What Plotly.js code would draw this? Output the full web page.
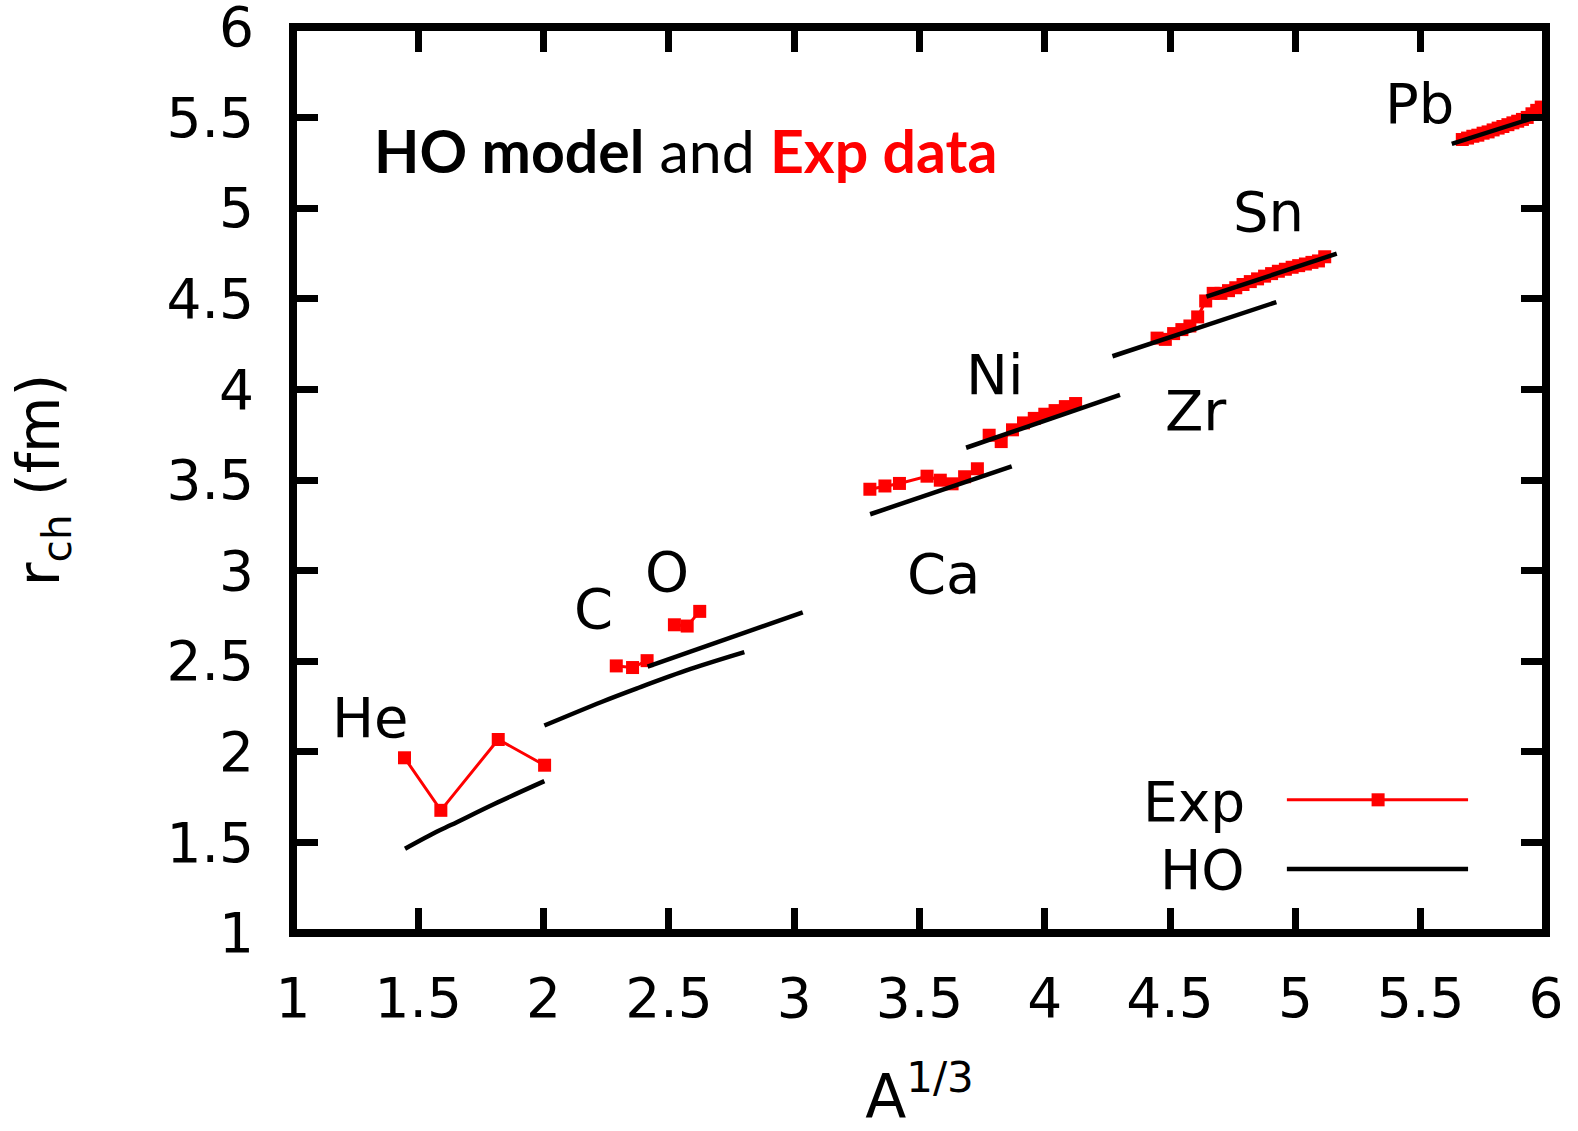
<!DOCTYPE html>
<html>
<head>
<meta charset="utf-8">
<script src="https://cdn.plot.ly/plotly-3.0.1.min.js"></script>
<style>
html,body{margin:0;padding:0;background:#fff;}
#chart{width:1578px;height:1131px;}
</style>
</head>
<body>
<div id="chart"></div>
<script>
// ---------- data ----------
// Experimental charge radii (x = A^(1/3), y = r_ch in fm)
var heExpX = [1.445, 1.590, 1.819, 2.004];
var heExpY = [1.967, 1.677, 2.068, 1.926];
var cExpX  = [2.290, 2.355, 2.413];
var cExpY  = [2.474, 2.465, 2.503];
var oExpX  = [2.522, 2.573, 2.623];
var oExpY  = [2.701, 2.694, 2.775];
var caExpX = [3.302, 3.362, 3.420, 3.530, 3.583, 3.630, 3.680, 3.731];
var caExpY = [3.449, 3.467, 3.481, 3.521, 3.499, 3.479, 3.518, 3.562];
var niExpX = [3.778, 3.826, 3.871, 3.915, 3.958, 4.000, 4.041, 4.082, 4.123];
var niExpY = [3.747, 3.712, 3.777, 3.815, 3.840, 3.863, 3.883, 3.905, 3.922];
var zrExpX = [4.448, 4.481, 4.514, 4.547, 4.579, 4.610, 4.642, 4.672];
var zrExpY = [4.283, 4.276, 4.308, 4.330, 4.350, 4.400, 4.488, 4.530];
var snExpX = [4.703, 4.733, 4.762, 4.791, 4.820, 4.849, 4.877, 4.905, 4.932, 4.960, 4.987, 5.013, 5.040, 5.066, 5.092, 5.117];
var snExpY = [4.530, 4.545, 4.561, 4.579, 4.595, 4.610, 4.625, 4.639, 4.652, 4.663, 4.674, 4.683, 4.692, 4.701, 4.709, 4.732];
var pbExpX = [5.666, 5.687, 5.708, 5.728, 5.749, 5.769, 5.789, 5.809, 5.828, 5.848, 5.868, 5.887, 5.906, 5.925, 5.944, 5.963, 5.981];
var pbExpY = [5.379, 5.387, 5.397, 5.403, 5.414, 5.421, 5.432, 5.442, 5.451, 5.461, 5.471, 5.480, 5.490, 5.501, 5.521, 5.540, 5.558];

// HO model curves
var heHoX = [1.447, 1.575, 1.632, 1.803, 2.003];
var heHoY = [1.465, 1.560, 1.597, 1.712, 1.838];
var cHoX  = [2.003, 2.231, 2.373, 2.587, 2.801];
var cHoY  = [2.145, 2.275, 2.350, 2.457, 2.550];
var oHoX  = [2.415, 2.729, 3.034];
var oHoY  = [2.470, 2.622, 2.770];
var caHoX = [3.303, 3.585, 3.868];
var caHoY = [3.311, 3.446, 3.575];
var niHoX = [3.686, 3.993, 4.300];
var niHoY = [3.678, 3.826, 3.970];
var zrHoX = [4.270, 4.924];
var zrHoY = [4.183, 4.482];
var snHoX = [4.645, 5.165];
var snHoY = [4.512, 4.749];
var pbHoX = [5.624, 5.976];
var pbHoY = [5.355, 5.510];

// element labels
var elemNames = ["He", "C", "O", "Ca", "Ni", "Zr", "Sn", "Pb"];
var elemX = [1.309, 2.201, 2.494, 3.594, 3.799, 4.602, 4.892, 5.494];
var elemY = [2.189, 2.789, 2.994, 2.983, 4.083, 3.883, 4.983, 5.578];

var xTicks = [1, 1.5, 2, 2.5, 3, 3.5, 4, 4.5, 5, 5.5, 6];
var yTicks = [1, 1.5, 2, 2.5, 3, 3.5, 4, 4.5, 5, 5.5, 6];

// ---------- traces ----------
var RED = "#ff0000";
var FONT = "DejaVu Sans, sans-serif";
var traces = [];
function expTrace(x, y) {
  return {x: x, y: y, type: "scatter", mode: "lines+markers", name: "Exp",
    showlegend: false, cliponaxis: true,
    line: {color: RED, width: 3},
    marker: {symbol: "square", size: 13, color: RED}};
}
function hoTrace(x, y, curved) {
  return {x: x, y: y, type: "scatter", mode: "lines", name: "HO",
    showlegend: false,
    line: {color: "#000", width: 4.5, shape: curved ? "spline" : "linear"}};
}
[[heExpX, heExpY], [cExpX, cExpY], [oExpX, oExpY], [caExpX, caExpY], [niExpX, niExpY],
 [zrExpX, zrExpY], [snExpX, snExpY], [pbExpX, pbExpY]]
  .forEach(function (s) { traces.push(expTrace(s[0], s[1])); });
[[heHoX, heHoY, true], [cHoX, cHoY, true], [oHoX, oHoY, false], [caHoX, caHoY, false],
 [niHoX, niHoY, false], [zrHoX, zrHoY, false], [snHoX, snHoY, false], [pbHoX, pbHoY, false]]
  .forEach(function (s) { traces.push(hoTrace(s[0], s[1], s[2])); });

// ---------- annotations ----------
var annotations = elemNames.map(function (n, i) {
  return {x: elemX[i], y: elemY[i], xref: "x", yref: "y", text: n, showarrow: false,
    xanchor: "center", yanchor: "middle", font: {family: FONT, size: 56, color: "#000"}};
});
annotations.push({x: 1.315, y: 5.317, xref: "x", yref: "y", xanchor: "left", yanchor: "middle",
  showarrow: false,
  text: "<b>HO model</b> and <span style='color:#ff0000'><b>Exp data</b></span>",
  font: {family: "Lato, Open Sans, sans-serif", size: 59, color: "#000"}});
// legend texts
annotations.push({x: 4.807, y: 1.724, xref: "x", yref: "y", xanchor: "right", yanchor: "middle",
  showarrow: false, text: "Exp", font: {family: FONT, size: 55, color: "#000"}});
annotations.push({x: 4.807, y: 1.346, xref: "x", yref: "y", xanchor: "right", yanchor: "middle",
  showarrow: false, text: "HO", font: {family: FONT, size: 55, color: "#000"}});

// frame + legend samples
var shapes = [
  {type: "rect", xref: "paper", yref: "paper", x0: 0, x1: 1, y0: 0, y1: 1,
   line: {color: "#000", width: 8}, layer: "above"},
  {type: "line", xref: "x", yref: "y", x0: 4.966, x1: 5.689, y0: 1.735, y1: 1.735,
   line: {color: RED, width: 3}},
  {type: "rect", xref: "x", yref: "y", x0: 5.330 - 0.026, x1: 5.330 + 0.026,
   y0: 1.735 - 0.036, y1: 1.735 + 0.036, fillcolor: RED, line: {width: 0}},
  {type: "line", xref: "x", yref: "y", x0: 4.966, x1: 5.689, y0: 1.353, y1: 1.353,
   line: {color: "#000", width: 4.5}}
];

var axisCommon = {
  showgrid: false, zeroline: false, showline: false,
  mirror: "ticks", ticks: "inside", ticklen: 25, tickwidth: 7, tickcolor: "#000",
  tickfont: {family: FONT, size: 55, color: "#000"}, automargin: false, fixedrange: true,
  ticklabeloverflow: "allow"
};

var layout = {
  width: 1578, height: 1131,
  margin: {l: 293, r: 32, t: 27, b: 198, pad: 0},
  paper_bgcolor: "#fff", plot_bgcolor: "#fff",
  showlegend: false,
  font: {family: FONT, color: "#000"},
  xaxis: Object.assign({}, axisCommon, {
    range: [1, 6], tickmode: "array", tickvals: xTicks, ticktext: xTicks.map(String),
    ticklabelstandoff: 28,
    title: {text: "A<sup>1/3</sup>", font: {family: FONT, size: 60, color: "#000"}, standoff: 62}
  }),
  yaxis: Object.assign({}, axisCommon, {
    range: [1, 6], tickmode: "array", tickvals: yTicks, ticktext: yTicks.map(String),
    ticklabelstandoff: 38,
    title: {text: "r<sub>ch</sub> (fm)", font: {family: FONT, size: 58, color: "#000"}, standoff: 88}
  }),
  annotations: annotations,
  shapes: shapes
};

Plotly.newPlot("chart", traces, layout, {staticPlot: true, displayModeBar: false});
</script>
</body>
</html>
